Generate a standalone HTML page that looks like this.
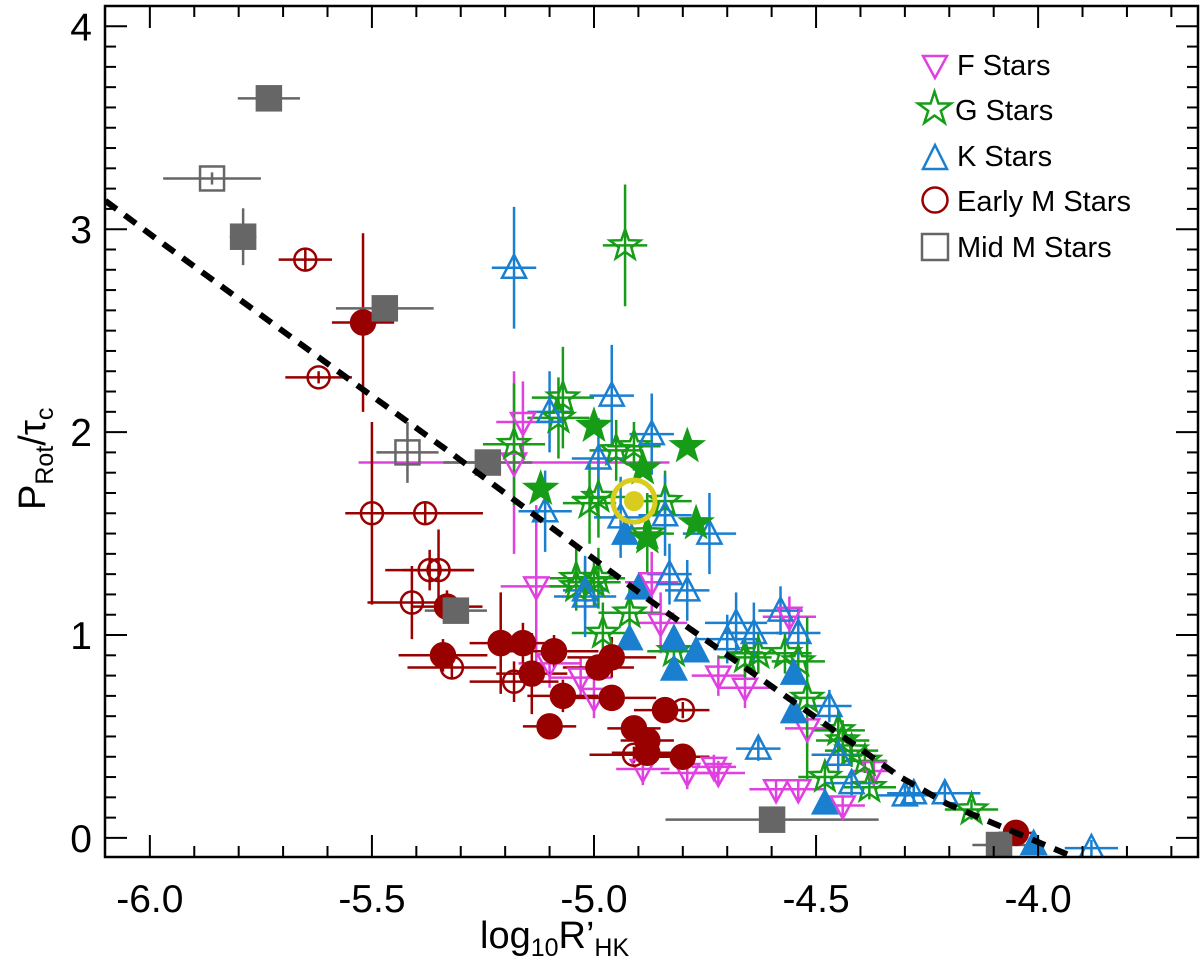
<!DOCTYPE html>
<html><head><meta charset="utf-8"><style>
html,body{margin:0;padding:0;background:#fff;}
svg{display:block;font-family:"Liberation Sans",Helvetica,Arial,sans-serif;}
</style></head><body>
<svg id="chart" width="1200" height="967" viewBox="0 0 1200 967">
<g id="marks"></g>
<g id="axes"></g>
<g id="legend"></g>
</svg>
<script>
// ---- data ----
const trendX = [-6.1, -5.99, -5.534, -5.324, -4.874, -4.31, -4.205, -3.92];
const trendY = [3.14, 2.96, 2.232, 1.90, 1.17, 0.30, 0.168, -0.094];

const fX = [-5.16,-5.18,-5.13,-4.87,-4.85,-5.10,-5.03,-5.00,-4.72,-4.66,-4.56,-4.89,-4.79,-4.73,-4.72,-4.59,-4.54,-4.52,-4.44,-4.37];
const fY = [2.05,1.85,1.24,1.26,1.06,0.86,0.79,0.69,0.80,0.74,1.09,0.34,0.32,0.35,0.32,0.24,0.24,0.54,0.16,0.33];
const fXe = [0.06,0.35,0.08,0.06,0.06,0.07,0.07,0.06,0.06,0.06,0.06,0.06,0.06,0.05,0.06,0.06,0.06,0.05,0.05,0.05];
const fYe = [0.2,0.45,0.4,0.15,0.15,0.12,0.1,0.1,0.1,0.1,0.1,0.08,0.08,0.06,0.06,0.05,0.05,0.1,0.05,0.08];

const gX = [-4.93,-5.07,-5.08,-5.18,-4.95,-4.91,-5.01,-4.99,-4.84,-4.88,-5.04,-4.99,-5.04,-5.00,-4.98,-4.92,-4.82,-4.66,-4.63,-4.57,-4.54,-4.52,-4.45,-4.44,-4.42,-4.48,-4.39,-4.38,-4.15];
const gY = [2.92,2.17,2.07,1.94,1.91,1.93,1.65,1.68,1.66,1.50,1.28,1.28,1.24,1.26,1.01,1.11,0.92,0.89,0.91,0.91,0.87,0.69,0.53,0.48,0.43,0.30,0.38,0.25,0.14];
const gXe = [0.05,0.07,0.07,0.07,0.06,0.06,0.06,0.06,0.06,0.06,0.06,0.06,0.06,0.06,0.07,0.07,0.06,0.06,0.06,0.06,0.06,0.05,0.06,0.06,0.06,0.06,0.05,0.06,0.06];
const gYe = [0.3,0.25,0.2,0.3,0.15,0.12,0.2,0.2,0.15,0.2,0.15,0.15,0.12,0.12,0.15,0.12,0.1,0.1,0.1,0.1,0.1,0.4,0.1,0.1,0.08,0.08,0.06,0.06,0.05];
const gfX = [-5.00,-4.79,-5.12,-4.77,-4.89,-4.88];
const gfY = [2.03,1.93,1.72,1.55,1.82,1.48];

const kX = [-5.18,-4.96,-5.10,-4.87,-4.99,-5.11,-4.84,-4.74,-4.94,-4.83,-4.79,-5.02,-5.02,-4.68,-4.64,-4.70,-4.58,-4.54,-4.47,-4.63,-4.45,-4.42,-4.30,-4.28,-4.21,-3.88];
const kY = [2.81,2.18,2.10,1.99,1.87,1.61,1.59,1.50,1.58,1.30,1.22,1.22,1.19,1.06,1.01,0.98,1.12,1.01,0.65,0.44,0.41,0.27,0.21,0.22,0.22,-0.05];
const kXe = [0.05,0.05,0.05,0.05,0.06,0.06,0.06,0.06,0.06,0.05,0.05,0.05,0.07,0.07,0.06,0.07,0.05,0.05,0.05,0.05,0.06,0.06,0.06,0.06,0.08,0.06];
const kYe = [0.3,0.25,0.2,0.2,0.2,0.2,0.2,0.2,0.2,0.15,0.15,0.15,0.2,0.15,0.15,0.12,0.12,0.12,0.08,0.06,0.08,0.06,0.05,0.05,0.05,0.04];
const kfX = [-4.93,-4.90,-4.92,-4.82,-4.77,-4.82,-4.55,-4.55,-4.48,-4.01];
const kfY = [1.50,1.23,0.98,0.98,0.92,0.83,0.81,0.62,0.17,-0.03];

const emX = [-5.52,-5.331,-5.34,-5.21,-5.16,-5.09,-5.14,-5.07,-4.96,-4.99,-4.96,-5.10,-4.91,-4.88,-4.88,-4.80,-4.84,-4.05];
const emY = [2.54,1.14,0.90,0.96,0.96,0.92,0.81,0.70,0.69,0.84,0.89,0.55,0.54,0.48,0.42,0.40,0.63,0.025];
const emXe = [0.07,0.08,0.1,0.07,0.07,0.1,0.08,0.08,0.1,0.08,0.1,0.06,0.06,0.06,0.08,0.06,0.07,0.04];
const emYe = [0.44,0.08,0.08,0.25,0.1,0.08,0.2,0.08,0.06,0.06,0.1,0.06,0.06,0.06,0.06,0.05,0.05,0.03];
const eoX = [-5.65,-5.62,-5.50,-5.38,-5.37,-5.35,-5.41,-5.32,-5.18,-4.80,-4.91];
const eoY = [2.85,2.27,1.60,1.60,1.32,1.32,1.16,0.84,0.77,0.63,0.41];
const eoXe = [0.06,0.075,0.06,0.13,0.1,0.08,0.1,0.1,0.1,0.06,0.1];
const eoYe = [0.05,0.03,0.45,0.05,0.1,0.2,0.18,0.05,0.1,0.04,0.04];

const mmX = [-5.732,-5.79,-5.471,-5.239,-5.311,-4.599,-4.088];
const mmY = [3.645,2.963,2.61,1.85,1.12,0.09,-0.035];
const mmXe = [0.07,0.03,0.11,0.1,0.07,0.24,0.06];
const mmYe = [0.03,0.14,0.03,0.03,0.03,0.03,0.03];
const moX = [-5.86,-5.42];
const moY = [3.25,1.9];
const moXe = [0.11,0.07];
const moYe = [0.03,0.15];

const sunX = [-4.91];
const sunY = [1.66];

const xTicks = [-6.0,-5.5,-5.0,-4.5,-4.0];
const xTickLabels = ["-6.0","-5.5","-5.0","-4.5","-4.0"];
const yTicks = [0,1,2,3,4];
const yTickLabels = ["0","1","2","3","4"];

// ---- axes ----
const L=105,R=1198,T=6,B=857;
const X0=-6.101,X1=-3.64,Y0=-0.094,Y1=4.1;
function sx(v){return L+(v-X0)/(X1-X0)*(R-L);}
function sy(v){return B-(v-Y0)/(Y1-Y0)*(B-T);}
const NS="http://www.w3.org/2000/svg";
function mk(tag,attrs,parent){const e=document.createElementNS(NS,tag);for(const k in attrs)e.setAttribute(k,attrs[k]);parent.appendChild(e);return e;}
const marks=document.getElementById('marks');
const axes=document.getElementById('axes');

const clip=mk('clipPath',{id:'pc'},document.getElementById('chart'));
mk('rect',{x:L,y:T,width:R-L,height:B-T},clip);
marks.setAttribute('clip-path','url(#pc)');

const C={F:'#e040e0',G:'#169c16',K:'#1b7fd0',EM:'#990000',MM:'#666666',SUN:'#d8cc1e'};

function errbars(xs,ys,xe,ye,col,name){
  for(let i=0;i<xs.length;i++){
    const g=mk('g',{},marks);
    
    
    mk('line',{x1:sx(xs[i]-xe[i]),x2:sx(xs[i]+xe[i]),y1:sy(ys[i]),y2:sy(ys[i]),stroke:col,'stroke-width':2.5},g);
    mk('line',{x1:sx(xs[i]),x2:sx(xs[i]),y1:sy(ys[i]-ye[i]),y2:sy(ys[i]+ye[i]),stroke:col,'stroke-width':2.5},g);
  }
}
function starPts(cx,cy,ro,ri){let p=[];for(let k=0;k<10;k++){const r=k%2?ri:ro;const a=-Math.PI/2+k*Math.PI/5;p.push((cx+r*Math.cos(a)).toFixed(1)+','+(cy+r*Math.sin(a)).toFixed(1));}return p.join(' ');}
function marker(shape,cx,cy,col,filled,parent){
  const fill=filled?col:'none';
  const sw=2.5;
  if(shape==='down'){const s=12;return mk('polygon',{points:`${cx-s},${cy-9} ${cx+s},${cy-9} ${cx},${cy+13}`,fill:fill,stroke:col,'stroke-width':sw},parent);}
  if(shape==='up'){const s=12;return mk('polygon',{points:`${cx-s},${cy+10} ${cx+s},${cy+10} ${cx},${cy-13}`,fill:fill,stroke:col,'stroke-width':sw},parent);}
  if(shape==='star'){return mk('polygon',{points:starPts(cx,cy,16,6.5),fill:fill,stroke:col,'stroke-width':sw},parent);}
  if(shape==='circle'){return mk('circle',{cx:cx,cy:cy,r:filled?12:11,fill:fill,stroke:col,'stroke-width':sw},parent);}
  if(shape==='square'){return mk('rect',{x:cx-12,y:cy-12,width:24,height:24,fill:fill,stroke:col,'stroke-width':sw},parent);}
}
function series(xs,ys,shape,col,filled,name){
  for(let i=0;i<xs.length;i++){
    const m=marker(shape,sx(xs[i]),sy(ys[i]),col,filled,marks);
    
    
  }
}

errbars(fX,fY,fXe,fYe,C.F,'f-star');
errbars(gX,gY,gXe,gYe,C.G,'g-star');
errbars(kX,kY,kXe,kYe,C.K,'k-star');
errbars(emX,emY,emXe,emYe,C.EM,'early-m-star');
errbars(eoX,eoY,eoXe,eoYe,C.EM,'early-m-star-open');
errbars(mmX,mmY,mmXe,mmYe,C.MM,'mid-m-star');
errbars(moX,moY,moXe,moYe,C.MM,'mid-m-star-open');

series(fX,fY,'down',C.F,false,'f-star-point');
series(gX,gY,'star',C.G,false,'g-star-point');
series(kX,kY,'up',C.K,false,'k-star-point');
series(kfX,kfY,'up',C.K,true,'k-star-filled-point');
series(gfX,gfY,'star',C.G,true,'g-star-filled-point');
series(eoX,eoY,'circle',C.EM,false,'early-m-star-open-point');
series(emX,emY,'circle',C.EM,true,'early-m-star-point');
series(moX,moY,'square',C.MM,false,'mid-m-star-open-point');
series(mmX,mmY,'square',C.MM,true,'mid-m-star-point');

let d='';
for(let i=0;i<trendX.length;i++){d+=(i?'L':'M')+sx(trendX[i]).toFixed(1)+','+sy(trendY[i]).toFixed(1);}
const tl=mk('path',{d:d,fill:'none',stroke:'#000','stroke-width':6,'stroke-dasharray':'14,10'},marks);



for(let i=0;i<sunX.length;i++){
  const g=mk('g',{},marks);
  
  
  mk('circle',{cx:sx(sunX[i]),cy:sy(sunY[i]),r:21,fill:'none',stroke:C.SUN,'stroke-width':5},g);
  mk('circle',{cx:sx(sunX[i]),cy:sy(sunY[i]),r:10,fill:C.SUN},g);
}

const fr=mk('rect',{x:L,y:T,width:R-L,height:B-T,fill:'none',stroke:'#000','stroke-width':2.5},axes);



for(let v=-6.1;v<=-3.64;v+=0.1){
  const vv=Math.round(v*10)/10; const px=sx(vv);
  if(px<L+1||px>R-1)continue;
  const maj=Math.abs(vv*2-Math.round(vv*2))<1e-6;
  const len=maj?22:11;
  mk('line',{x1:px,x2:px,y1:B,y2:B-len,stroke:'#000','stroke-width':2},axes);
  mk('line',{x1:px,x2:px,y1:T,y2:T+len,stroke:'#000','stroke-width':2},axes);
}
for(let i=0;i<xTicks.length;i++){
  const t=mk('text',{x:sx(xTicks[i]),y:912,'text-anchor':'middle','font-size':39},axes);
  t.textContent=xTickLabels[i];
  
  
}
for(let k=-1;k<=41;k++){
  const v=k/10; const py=sy(v);
  if(py<T+1||py>B-1)continue;
  const maj=k%10===0; const len=maj?22:11;
  mk('line',{x1:L,x2:L+len,y1:py,y2:py,stroke:'#000','stroke-width':2},axes);
  mk('line',{x1:R,x2:R-len,y1:py,y2:py,stroke:'#000','stroke-width':2},axes);
}
for(let i=0;i<yTicks.length;i++){
  const t=mk('text',{x:92,y:sy(yTicks[i])+14,'text-anchor':'end','font-size':39},axes);
  t.textContent=yTickLabels[i];
  
  
}
</script>
<div style="position:absolute;left:0;top:0;width:1200px;height:967px;pointer-events:none">
<svg width="1200" height="967" style="position:absolute;left:0;top:0;font-family:'Liberation Sans',Arial,sans-serif">
<text x="480" y="948" font-size="38">log<tspan font-size="25" dy="8">10</tspan><tspan dy="-8">R’</tspan><tspan font-size="25" dy="8">HK</tspan></text>
<text transform="translate(45,510) rotate(-90)" font-size="38">P<tspan font-size="25" dy="8">Rot</tspan><tspan dy="-8">/τ</tspan><tspan font-size="25" dy="8">c</tspan></text>
<g>
<polygon points="923,56 947,56 935,78" fill="none" stroke="#e040e0" stroke-width="2.5"/>
<text x="957" y="75" font-size="29">F Stars</text></g>
<g>
<polygon points="934.5,91.5 938.4,103.5 951.0,103.5 940.8,110.9 944.7,122.9 934.5,115.5 924.3,122.9 928.2,110.9 918.0,103.5 930.6,103.5" fill="none" stroke="#169c16" stroke-width="2.5"/>
<text x="955" y="120" font-size="29">G Stars</text></g>
<g>
<polygon points="923,169 947,169 935,145" fill="none" stroke="#1b7fd0" stroke-width="2.5"/>
<text x="957" y="166" font-size="29">K Stars</text></g>
<g>
<circle cx="935" cy="200" r="12.5" fill="none" stroke="#990000" stroke-width="2.5"/>
<text x="957" y="211" font-size="29">Early M Stars</text></g>
<g>
<rect x="922" y="234" width="26" height="26" fill="none" stroke="#666666" stroke-width="2.5"/>
<text x="957" y="257" font-size="29">Mid M Stars</text></g>
</svg></div>
</body></html>
